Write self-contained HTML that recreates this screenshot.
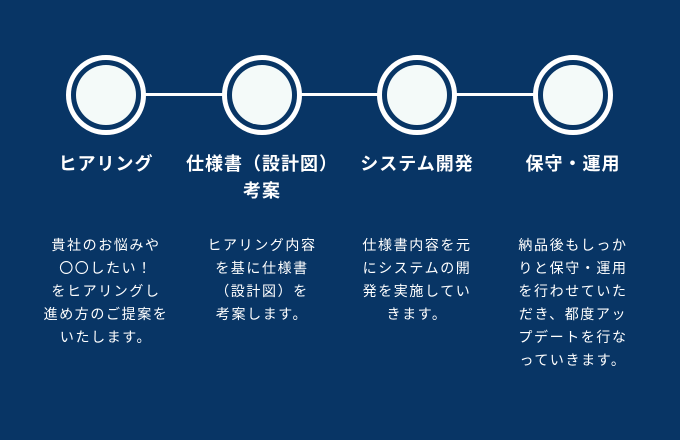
<!DOCTYPE html>
<html><head><meta charset="utf-8"><style>
body{margin:0;width:680px;height:440px;background:#083565;overflow:hidden;position:relative;font-family:"Liberation Sans","Noto Sans CJK JP",sans-serif;color:#fff}
.line{position:absolute;left:106px;width:467px;top:93px;height:3px;background:#fff}
.c{position:absolute;top:55px;width:70px;height:70px;border:5px solid #fff;border-radius:50%;background:#083565}
.c::after{content:"";position:absolute;left:5px;top:5px;width:60px;height:60px;border-radius:50%;background:#f4faf9}
.t{position:absolute;top:151px;width:160px;text-align:center;font-weight:bold;font-size:18px;line-height:27px;letter-spacing:1px}
.d{position:absolute;top:234px;width:150px;text-align:center;font-size:14px;line-height:23px;letter-spacing:1.6px}
</style></head><body>
<div class="line"></div>
<div class="c" style="left:66px"></div>
<div class="c" style="left:222px"></div>
<div class="c" style="left:377px"></div>
<div class="c" style="left:533px"></div>
<div class="t" style="left:26px">ヒアリング</div>
<div class="t" style="left:182px">仕様書（設計図）<br>考案</div>
<div class="t" style="left:337px">システム開発</div>
<div class="t" style="left:493px">保守・運用</div>
<div class="d" style="left:31px">貴社のお悩みや<br>〇〇したい！<br>をヒアリングし<br>進め方のご提案を<br>いたします。</div>
<div class="d" style="left:187px">ヒアリング内容<br>を基に仕様書<br>（設計図）を<br>考案します。</div>
<div class="d" style="left:342px">仕様書内容を元<br>にシステムの開<br>発を実施してい<br>きます。</div>
<div class="d" style="left:498px">納品後もしっか<br>りと保守・運用<br>を行わせていた<br>だき、都度アッ<br>プデートを行な<br>っていきます。</div>
</body></html>
